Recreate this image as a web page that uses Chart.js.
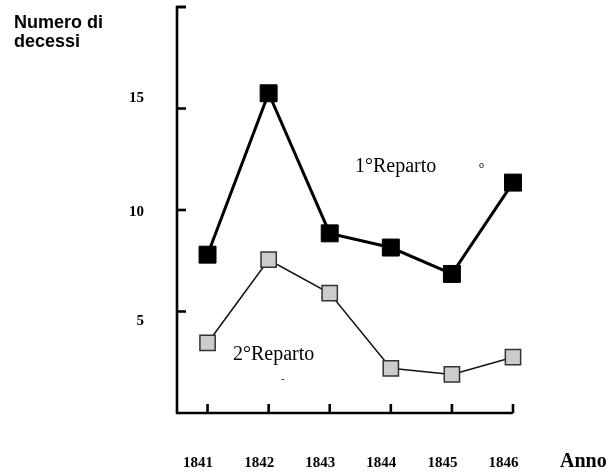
<!DOCTYPE html>
<html><head><meta charset="utf-8">
<script src="https://cdn.jsdelivr.net/npm/chart.js@4"></script>
<style>html,body{margin:0;padding:0;background:#fff}#w{width:616px;height:472px;position:relative}canvas{display:block}</style>
</head><body><div id="w"><canvas id="c" width="616" height="472"></canvas></div>
<script>
const years = [1841, 1842, 1843, 1844, 1845, 1846];
const reparto1 = [7.8, 15.75, 8.85, 8.15, 6.85, 11.35];
const reparto2 = [3.45, 7.55, 5.9, 2.2, 1.9, 2.75];
const yTickLabels = [5, 10, 15];
const yTickMarks = [5, 10, 15, 20];
const seriesNames = ['1°Reparto', '2°Reparto'];
const yTitle = ['Numero di', 'decessi'];
const xTitle = 'Anno';

const yLabelShift = {5: 10, 10: 2, 15: -10};

const axesPlugin = {
  id: 'axesPlugin',
  beforeDatasetsDraw(chart) {
    const {ctx, chartArea: a, scales: {x, y}} = chart;
    ctx.save();
    ctx.strokeStyle = '#000';
    ctx.lineWidth = 2.6;
    ctx.lineCap = 'butt';
    const y0 = y.getPixelForValue(0);
    const yTop = y.getPixelForValue(20);
    const xl = a.left;
    const xr = x.getPixelForValue(years[years.length - 1]);
    ctx.beginPath();
    ctx.moveTo(xl + 9, yTop);
    ctx.lineTo(xl, yTop);
    ctx.lineTo(xl, y0);
    ctx.lineTo(xr, y0);
    ctx.stroke();
    yTickMarks.forEach(v => {
      const py = y.getPixelForValue(v);
      ctx.beginPath(); ctx.moveTo(xl, py); ctx.lineTo(xl + 9, py); ctx.stroke();
    });
    years.forEach(yr => {
      const px = x.getPixelForValue(yr);
      ctx.beginPath(); ctx.moveTo(px, y0); ctx.lineTo(px, y0 - 9); ctx.stroke();
    });
    ctx.fillStyle = '#000';
    ctx.font = 'bold 15px "Liberation Serif", "Times New Roman", serif';
    ctx.textAlign = 'right'; ctx.textBaseline = 'middle';
    yTickLabels.forEach(v => {
      ctx.fillText(String(v), xl - 33, y.getPixelForValue(v) + yLabelShift[v]);
    });
    ctx.textAlign = 'center'; ctx.textBaseline = 'alphabetic';
    years.forEach(yr => {
      ctx.fillText(String(yr), x.getPixelForValue(yr) - 9.5, 467);
    });
    ctx.font = 'bold 20px "Liberation Serif", "Times New Roman", serif';
    ctx.textAlign = 'left';
    ctx.fillText(xTitle, 560, 467);
    ctx.font = 'bold 18px "Liberation Sans", Arial, sans-serif';
    ctx.fillText(yTitle[0], 14, 28);
    ctx.fillText(yTitle[1], 14, 47);
    ctx.font = '20px "Liberation Serif", "Times New Roman", serif';
    ctx.fillText(seriesNames[0], 355, 172);
    ctx.fillText(seriesNames[1], 233, 360);
    ctx.font = '10px "Liberation Serif", serif';
    ctx.fillText('o', 479, 168);
    ctx.fillText('-', 281, 382);
    ctx.restore();
  }
};

new Chart(document.getElementById('c'), {
  type: 'line',
  data: {
    datasets: [
      {
        label: seriesNames[0],
        data: years.map((yr, i) => ({x: yr, y: reparto1[i]})),
        borderColor: '#000', borderWidth: 3,
        pointStyle: 'rect', pointRadius: 12, pointBackgroundColor: '#000',
        pointBorderColor: '#000', pointBorderWidth: 1, tension: 0, clip: false
      },
      {
        label: seriesNames[1],
        data: years.map((yr, i) => ({x: yr, y: reparto2[i]})),
        borderColor: '#111', borderWidth: 1.5,
        pointStyle: 'rect', pointRadius: 10.8, pointBackgroundColor: '#cccccc',
        pointBorderColor: '#333', pointBorderWidth: 1.5, tension: 0, clip: false
      }
    ]
  },
  options: {
    responsive: false,
    maintainAspectRatio: false,
    animation: false,
    devicePixelRatio: 1,
    layout: {autoPadding: false, padding: {left: 177, right: 103, top: 7, bottom: 59}},
    plugins: {legend: {display: false}, tooltip: {enabled: false}},
    scales: {
      x: {
        type: 'linear', min: 1840.5, max: 1846,
        display: true,
        grid: {display: false}, border: {display: false},
        ticks: {display: false},
        afterFit(s) { s.height = 0; s.paddingLeft = 0; s.paddingRight = 0; s.paddingTop = 0; s.paddingBottom = 0; }
      },
      y: {
        type: 'linear', min: 0, max: 20,
        display: true,
        grid: {display: false}, border: {display: false},
        ticks: {display: false},
        afterFit(s) { s.width = 0; s.paddingTop = 0; s.paddingBottom = 0; s.paddingLeft = 0; s.paddingRight = 0; }
      }
    }
  },
  plugins: [axesPlugin]
});
</script>
</body></html>
